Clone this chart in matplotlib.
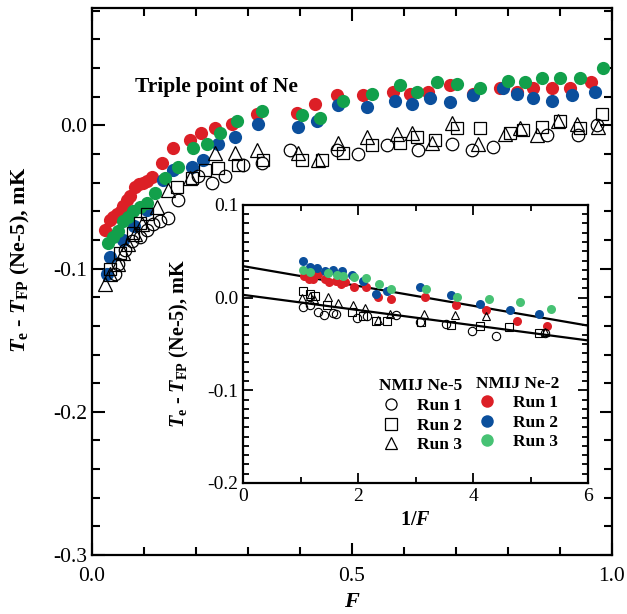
import numpy as np
import matplotlib
matplotlib.use('Agg')
import matplotlib.pyplot as plt
from matplotlib.ticker import MultipleLocator, FormatStrFormatter
from matplotlib.lines import Line2D

plt.rcParams['font.family'] = 'Liberation Serif'
plt.rcParams['mathtext.fontset'] = 'custom'
plt.rcParams['mathtext.rm'] = 'Liberation Serif:bold'
plt.rcParams['mathtext.it'] = 'Liberation Serif:italic:bold'
plt.rcParams['mathtext.bf'] = 'Liberation Serif:bold'

RED = '#dc1f26'
BLUE = '#0b4f9c'
GREEN = '#12a04b'
GREEN_IN = '#47c274'

# ---- main plot: T_e - T_FP vs F ----
# NMIJ Ne-2 (filled)
red_F = [0.025, 0.035, 0.040, 0.048, 0.055, 0.060, 0.067, 0.073, 0.083, 0.090, 0.098, 0.105, 0.115,
         0.134, 0.156, 0.188, 0.210, 0.237, 0.269, 0.317, 0.394, 0.429, 0.471, 0.521, 0.579, 0.612,
         0.646, 0.688, 0.733, 0.785, 0.817, 0.848, 0.885, 0.919, 0.960]
red_T = [-0.073, -0.066, -0.064, -0.062, -0.060, -0.056, -0.052, -0.049, -0.043, -0.041, -0.040, -0.039, -0.036,
         -0.026, -0.016, -0.010, -0.005, -0.002, 0.001, 0.008, 0.009, 0.015, 0.021, 0.021, 0.023, 0.022,
         0.023, 0.028, 0.022, 0.026, 0.023, 0.026, 0.026, 0.026, 0.030]

blue_F = [0.028, 0.035, 0.060, 0.080, 0.105, 0.137, 0.156, 0.192, 0.213, 0.242, 0.275, 0.319, 0.396,
          0.432, 0.473, 0.529, 0.583, 0.615, 0.650, 0.688, 0.733, 0.790, 0.817, 0.848, 0.885, 0.923, 0.967]
blue_T = [-0.104, -0.092, -0.080, -0.070, -0.059, -0.038, -0.031, -0.029, -0.024, -0.013, -0.008, 0.001, -0.001,
          0.003, 0.014, 0.013, 0.017, 0.015, 0.019, 0.016, 0.021, 0.026, 0.022, 0.019, 0.017, 0.021, 0.023]

green_F = [0.031, 0.040, 0.050, 0.060, 0.069, 0.079, 0.092, 0.106, 0.121, 0.140, 0.165, 0.194, 0.221,
           0.246, 0.279, 0.327, 0.404, 0.438, 0.483, 0.538, 0.592, 0.625, 0.663, 0.702, 0.746, 0.800,
           0.833, 0.865, 0.900, 0.938, 0.983]
green_T = [-0.082, -0.078, -0.074, -0.067, -0.064, -0.060, -0.057, -0.054, -0.047, -0.037, -0.029, -0.016, -0.013,
           -0.005, 0.003, 0.010, 0.007, 0.005, 0.017, 0.022, 0.028, 0.023, 0.030, 0.029, 0.026, 0.031,
           0.030, 0.033, 0.033, 0.033, 0.040]

# NMIJ Ne-5 (open)
circ_F = [0.044, 0.050, 0.063, 0.077, 0.092, 0.106, 0.117, 0.131, 0.146, 0.165, 0.204, 0.231, 0.256,
          0.290, 0.327, 0.381, 0.471, 0.512, 0.567, 0.627, 0.692, 0.731, 0.771, 0.875, 0.935, 0.971]
circ_T = [-0.104, -0.097, -0.087, -0.081, -0.078, -0.073, -0.069, -0.067, -0.065, -0.052, -0.035, -0.040, -0.035,
          -0.028, -0.026, -0.017, -0.017, -0.020, -0.014, -0.017, -0.013, -0.017, -0.015, -0.007, -0.007, 0.000]

sq_F = [0.035, 0.054, 0.079, 0.092, 0.106, 0.163, 0.192, 0.217, 0.242, 0.281, 0.329, 0.404, 0.442,
        0.483, 0.538, 0.592, 0.625, 0.660, 0.702, 0.746, 0.804, 0.829, 0.865, 0.900, 0.938, 0.981]
sq_T = [-0.100, -0.089, -0.075, -0.068, -0.062, -0.043, -0.037, -0.031, -0.030, -0.028, -0.024, -0.024, -0.024,
        -0.019, -0.014, -0.012, -0.008, -0.010, -0.002, -0.002, -0.005, -0.003, -0.001, 0.003, -0.002, 0.008]

tri_F = [0.025, 0.035, 0.050, 0.060, 0.069, 0.083, 0.096, 0.125, 0.146, 0.188, 0.237, 0.275, 0.317,
         0.396, 0.435, 0.473, 0.529, 0.587, 0.615, 0.654, 0.692, 0.742, 0.794, 0.823, 0.856, 0.896, 0.933, 0.973]
tri_T = [-0.111, -0.104, -0.097, -0.089, -0.083, -0.076, -0.069, -0.057, -0.045, -0.037, -0.019, -0.019, -0.017,
         -0.019, -0.024, -0.012, -0.008, -0.006, -0.005, -0.012, 0.002, -0.013, -0.006, -0.002, -0.007, 0.003, 0.001, -0.001]

# ---- inset: vs 1/F ----
in_red_x = [1.06, 1.14, 1.22, 1.31, 1.43, 1.50, 1.62, 1.70, 1.77, 1.93, 2.14, 2.35, 2.57, 3.17, 3.70, 4.23, 4.76, 5.29]
in_red_T = [0.023, 0.020, 0.020, 0.025, 0.020, 0.017, 0.018, 0.015, 0.017, 0.012, 0.012, 0.001, -0.002, 0.001,
            -0.008, -0.013, -0.025, -0.031]
in_blue_x = [1.05, 1.17, 1.28, 1.43, 1.56, 1.72, 1.89, 2.09, 2.32, 2.50, 3.08, 3.61, 4.12, 4.64, 5.15]
in_blue_T = [0.040, 0.033, 0.032, 0.029, 0.030, 0.029, 0.024, 0.018, 0.004, 0.007, 0.011, 0.003, -0.007, -0.013, -0.018]
in_green_x = [1.05, 1.17, 1.48, 1.63, 1.74, 1.93, 2.14, 2.37, 2.57, 3.19, 3.72, 4.28, 4.81, 5.36]
in_green_T = [0.030, 0.028, 0.027, 0.024, 0.023, 0.022, 0.021, 0.015, 0.009, 0.009, 0.001, -0.002, -0.005, -0.012]

in_circ_x = [1.05, 1.17, 1.31, 1.41, 1.57, 1.62, 1.98, 2.15, 2.66, 3.07, 3.53, 3.98, 4.40, 5.25]
in_circ_T = [-0.010, -0.008, -0.016, -0.019, -0.017, -0.018, -0.022, -0.020, -0.019, -0.026, -0.028, -0.036, -0.041, -0.038]
in_sq_x = [1.04, 1.17, 1.26, 1.46, 1.89, 2.09, 2.32, 2.51, 3.09, 3.61, 4.12, 4.63, 5.14]
in_sq_T = [0.007, 0.004, 0.002, -0.008, -0.015, -0.020, -0.025, -0.025, -0.026, -0.030, -0.031, -0.032, -0.038]
in_tri_x = [1.02, 1.16, 1.24, 1.47, 1.65, 1.91, 2.12, 2.34, 2.56, 3.14, 3.68, 4.22, 5.25]
in_tri_T = [0.000, 0.002, -0.002, 0.001, -0.006, -0.008, -0.011, -0.024, -0.018, -0.018, -0.019, -0.020, -0.037]

# linear fits (intercept, slope) in the inset
fit_ne2 = (0.034, -0.0107)
fit_ne5 = (0.003, -0.0082)

fig = plt.figure(figsize=(6.27, 6.14), dpi=100)
ax = fig.add_axes([0.1467, 0.0961, 0.8293, 0.8909])

ms = 9.5
ax.plot(red_F, red_T, 'o', color=RED, ms=ms, mec='none')
ax.plot(blue_F, blue_T, 'o', color=BLUE, ms=ms, mec='none')
ax.plot(green_F, green_T, 'o', color=GREEN, ms=ms, mec='none')
ax.plot(circ_F, circ_T, 'o', mfc='none', mec='black', ms=9, mew=0.9)
ax.plot(sq_F, sq_T, 's', mfc='none', mec='black', ms=8.5, mew=0.9)
ax.plot(tri_F, tri_T, '^', mfc='none', mec='black', ms=9.5, mew=0.9)

ax.set_xlim(0, 1.0)
ax.set_ylim(-0.3, 0.082)
ax.xaxis.set_major_locator(MultipleLocator(0.5))
ax.xaxis.set_minor_locator(MultipleLocator(0.1))
ax.yaxis.set_major_locator(MultipleLocator(0.1))
ax.yaxis.set_minor_locator(MultipleLocator(0.02))
ax.xaxis.set_major_formatter(FormatStrFormatter('%.1f'))
ax.yaxis.set_major_formatter(FormatStrFormatter('%.1f'))
ax.tick_params(which='both', direction='in', top=True, right=True, width=1.5, labelsize=15.5)
ax.tick_params(which='major', length=9)
ax.tick_params(which='minor', length=6)
ax.tick_params(axis='x', pad=9)
for s in ax.spines.values():
    s.set_linewidth(1.6)
ax.set_xlabel(r'$F$', fontsize=16)
ax.set_ylabel(r'$T_{\mathrm{e}}$ - $T_{\mathrm{FP}}$ (Ne-5), mK', fontsize=16, fontweight='bold')
ax.yaxis.set_label_coords(-0.115, 0.54)
ax.xaxis.set_label_coords(0.5, -0.07)
ax.text(0.082, 0.855, 'Triple point of Ne', transform=ax.transAxes, fontsize=15.5,
        fontweight='bold', va='center')

# inset
axi = fig.add_axes([0.3876, 0.2134, 0.5502, 0.4528])
xs = np.array([0, 6])
axi.plot(xs, fit_ne2[0] + fit_ne2[1] * xs, color='black', lw=1.6)
axi.plot(xs, fit_ne5[0] + fit_ne5[1] * xs, color='black', lw=1.6)
ms_in = 6.5
axi.plot(in_red_x, in_red_T, 'o', color=RED, ms=ms_in, mec='none')
axi.plot(in_blue_x, in_blue_T, 'o', color=BLUE, ms=ms_in, mec='none')
axi.plot(in_green_x, in_green_T, 'o', color=GREEN_IN, ms=ms_in, mec='none')
axi.plot(in_circ_x, in_circ_T, 'o', mfc='none', mec='black', ms=6, mew=0.8)
axi.plot(in_sq_x, in_sq_T, 's', mfc='none', mec='black', ms=5.5, mew=0.8)
axi.plot(in_tri_x, in_tri_T, '^', mfc='none', mec='black', ms=6, mew=0.8)
axi.set_xlim(0, 6)
axi.set_ylim(-0.2, 0.1)
axi.xaxis.set_major_locator(MultipleLocator(2))
axi.xaxis.set_minor_locator(MultipleLocator(1))
axi.yaxis.set_major_locator(MultipleLocator(0.1))
axi.yaxis.set_minor_locator(MultipleLocator(0.01))
axi.yaxis.set_major_formatter(FormatStrFormatter('%.1f'))
axi.tick_params(which='both', direction='in', top=True, right=True, width=1.3, labelsize=14)
axi.tick_params(which='major', length=7)
axi.tick_params(which='minor', length=4.5)
for s in axi.spines.values():
    s.set_linewidth(1.6)
axi.set_xlabel(r'1/$F$', fontsize=14.5, fontweight='bold')
axi.set_ylabel(r'$T_{\mathrm{e}}$ - $T_{\mathrm{FP}}$ (Ne-5), mK', fontsize=14.5, fontweight='bold')
axi.yaxis.set_label_coords(-0.15, 0.5)

# legends
h5 = [Line2D([], [], ls='none', marker=m, mfc='none', mec='black', ms=8, mew=0.9) for m in ['o', 's', '^']]
h2 = [Line2D([], [], ls='none', marker='o', color=c, mec='none', ms=9) for c in [RED, BLUE, GREEN_IN]]
runs = ['Run 1', 'Run 2', 'Run 3']
lkw = dict(frameon=False, loc='upper left', prop={'weight': 'bold', 'size': 12.5},
           title_fontproperties={'weight': 'bold', 'size': 12.5}, labelspacing=0.2,
           handletextpad=0.9, handlelength=1.2, borderpad=0.2)
leg1 = axi.legend(h5, runs, title='NMIJ Ne-5', bbox_to_anchor=(0.36, 0.42), **lkw)
axi.add_artist(leg1)
axi.legend(h2, runs, title='NMIJ Ne-2', bbox_to_anchor=(0.64, 0.43), **lkw)

fig.savefig('out.png', dpi=100)
